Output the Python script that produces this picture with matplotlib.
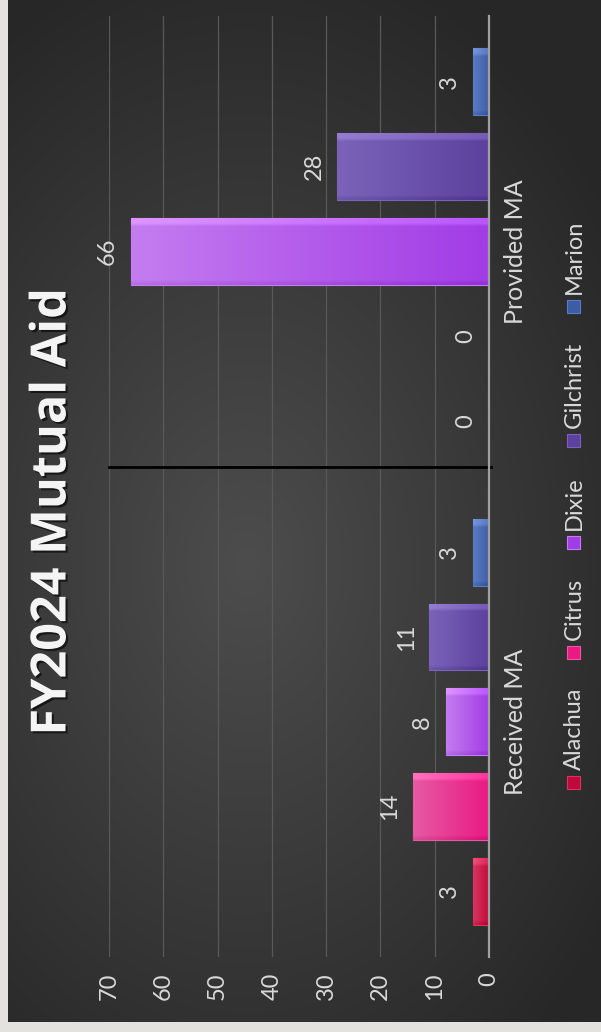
import numpy as np
import matplotlib
matplotlib.use('Agg')
import matplotlib.pyplot as plt
from matplotlib.patches import Rectangle
import matplotlib.patheffects as pe
from matplotlib.colors import to_rgb

# ---------------- data ----------------
categories = ['Received MA', 'Provided MA']
series_names = ['Alachua', 'Citrus', 'Dixie', 'Gilchrist', 'Marion']
alachua = [3, 0]
citrus = [14, 0]
dixie = [8, 66]
gilchrist = [11, 28]
marion = [3, 3]
value_ticks = [0, 10, 20, 30, 40, 50, 60, 70]
title_text = 'FY2024 Mutual Aid'

series_values = [alachua, citrus, dixie, gilchrist, marion]
dark_colors = ['#c0083a', '#ea1a84', '#a23ce6', '#5c419e', '#3d5ca6']
light_colors = ['#d8365f', '#e65aa3', '#c47cf0', '#7b63b9', '#5b7cc2']

W, H = 601, 1032
FONT = 'Lato'
TXT = '#d9d9d9'

fig = plt.figure(figsize=(W / 100, H / 100), dpi=100)


def fx(px):
    return px / W


def fy(py):
    return 1 - py / H


# ---------------- background ----------------
bg = fig.add_axes([0, 0, 1, 1], zorder=-10)
bg.set_axis_off()
bg.add_patch(Rectangle((0, 0), 1, 1, transform=bg.transAxes, color='#e4e2de',
                       zorder=-5))
ny, nx = 300, 200
yy, xx = np.mgrid[0:ny, 0:nx]
cx, cy = nx * 0.40, ny * 0.55
d = np.sqrt(((xx - cx) / (nx * 0.75)) ** 2 + ((yy - cy) / (ny * 0.62)) ** 2)
d = np.clip(d, 0, 1)
c_in = np.array(to_rgb('#4d4d4d'))
c_out = np.array(to_rgb('#272727'))
img = c_in[None, None, :] * (1 - d[..., None]) + c_out[None, None, :] * d[..., None]
bg.imshow(img, extent=[fx(8), 1, fy(1022), 1], aspect='auto', origin='upper',
          interpolation='bilinear', zorder=1)
bg.set_xlim(0, 1)
bg.set_ylim(0, 1)

# ---------------- chart axes ----------------
ax = fig.add_axes([fx(109), fy(957), fx(489) - fx(109), fy(16) - fy(957)])
ax.set_facecolor('none')
for s in ax.spines.values():
    s.set_visible(False)

cat_pos = np.arange(len(categories))
step = 0.18
bar_h = 0.142
n = len(series_names)

containers = []
for i, (name, vals) in enumerate(zip(series_names, series_values)):
    off = (i - (n - 1) / 2) * step
    bc = ax.barh(cat_pos + off, vals, height=bar_h, color=dark_colors[i],
                 edgecolor=light_colors[i], linewidth=0.8, zorder=3, label=name)
    containers.append(bc)
    # gradient fill clipped to each bar
    for p in bc.patches:
        w = p.get_width()
        if w == 0:
            continue
        y0 = p.get_y()
        c0 = np.array(to_rgb(dark_colors[i]))
        c1 = np.array(to_rgb(light_colors[i]))
        t = np.linspace(0, 1, 64)[None, :, None]
        g = np.repeat(c0 * (1 - t) + c1 * t, 20, axis=0)
        # faint light band along the upper edge, slight dark one at the lower edge
        g[0:2] = np.clip(g[0:2] + 0.10, 0, 1)
        g[-1:] = np.clip(g[-1:] - 0.05, 0, 1)
        im = ax.imshow(g, extent=[0, w, y0, y0 + bar_h], aspect='auto',
                       origin='upper', zorder=3.5, interpolation='bilinear')
        im.set_clip_path(p)

# value labels
for bc in containers:
    for p in bc.patches:
        w = p.get_width()
        yc = p.get_y() + p.get_height() / 2
        ax.annotate(f'{w:g}', xy=(w, yc), xytext=(-9, 0), textcoords='offset points',
                    ha='right', va='center', rotation=90, color=TXT,
                    fontsize=17, family=FONT, zorder=5)

ax.set_xlim(70, 0)
ax.set_ylim(-0.5, 1.5)
ax.set_xticks(value_ticks)
ax.set_xticklabels([str(v) for v in value_ticks])
ax.xaxis.grid(True, color='#595959', linewidth=0.9, zorder=0)
ax.set_axisbelow(True)
ax.axvline(0, color='#a0a0a0', linewidth=1.6, zorder=4, clip_on=False)
ax.axhline(0.541, color='#000000', linewidth=2.0, zorder=2, xmin=0, xmax=1.005,
           clip_on=False)

ax.tick_params(axis='x', length=0, pad=11, labelrotation=90, labelcolor=TXT,
               labelsize=17)
for lab in ax.get_xticklabels():
    lab.set_family(FONT)

ax.set_yticks(cat_pos)
ax.set_yticklabels(categories)
ax.yaxis.tick_right()
ax.tick_params(axis='y', length=0, pad=11, labelrotation=90, labelcolor=TXT,
               labelsize=18)
for lab in ax.get_yticklabels():
    lab.set_family(FONT)
    lab.set_va('center')

# ---------------- title ----------------
fig.text(fx(53), fy(512), title_text, rotation=90, ha='center', va='center',
         fontsize=35, fontweight='bold', family='Open Sans', color='#f4f4f4',
         path_effects=[pe.withSimplePatchShadow(offset=(1.5, -1.5),
                                                shadow_rgbFace='black', alpha=0.6)])

# ---------------- legend (rotated, flowing bottom -> top) ----------------
renderer = fig.canvas.get_renderer()
sq = 13
lx = 573
cur_bottom = 789  # pixel (from top) of first square's bottom edge
for i, name in enumerate(series_names):
    sq_top = cur_bottom - sq
    fig.patches.append(Rectangle((fx(lx - sq / 2), fy(cur_bottom)), fx(sq), sq / H,
                                 transform=fig.transFigure, facecolor=dark_colors[i],
                                 edgecolor=light_colors[i], linewidth=0.8))
    t = fig.text(fx(lx + 1), fy(sq_top - 6), name, rotation=90, ha='center',
                 va='bottom', fontsize=17, family=FONT, color=TXT)
    bb = t.get_window_extent(renderer)
    text_top_px = H - bb.y1
    cur_bottom = text_top_px - 29

fig.savefig('out.png', dpi=100)
